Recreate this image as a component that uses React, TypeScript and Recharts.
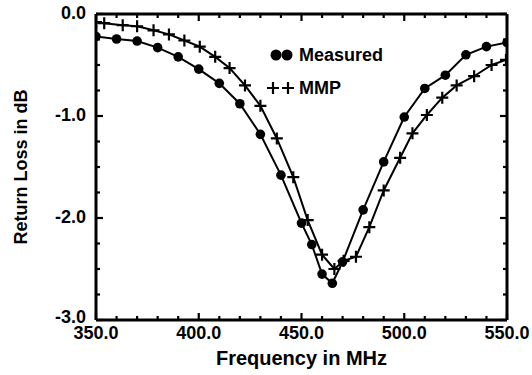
import React from 'react';
import { LineChart, Line, XAxis, YAxis } from 'recharts';

const measuredFreq = [350, 360, 370, 380, 390, 400, 410, 420, 430, 440, 450, 455, 460, 465, 470, 480, 490, 500, 510, 520, 530, 540, 550];
const measuredLoss = [-0.22, -0.245, -0.265, -0.33, -0.42, -0.54, -0.68, -0.88, -1.18, -1.58, -2.05, -2.26, -2.55, -2.64, -2.43, -1.92, -1.45, -1.01, -0.73, -0.6, -0.4, -0.32, -0.28];

const mmpFreq = [350, 354, 363, 370, 378, 385.5, 393, 400.5, 408, 415, 422.5, 430, 438, 446, 453, 460, 466, 470.5, 476.5, 483, 490, 498, 504, 511, 518.5, 525.5, 534, 542.5, 549.5];
const mmpLoss = [-0.08, -0.09, -0.11, -0.12, -0.16, -0.2, -0.26, -0.32, -0.42, -0.53, -0.7, -0.9, -1.22, -1.6, -2.02, -2.36, -2.5, -2.42, -2.38, -2.09, -1.73, -1.41, -1.17, -0.99, -0.82, -0.7, -0.61, -0.5, -0.45];

const xTicks = [350, 360, 370, 380, 390, 400, 410, 420, 430, 440, 450, 460, 470, 480, 490, 500, 510, 520, 530, 540, 550];
const yTicks = [-3, -2.75, -2.5, -2.25, -2, -1.75, -1.5, -1.25, -1, -0.75, -0.5, -0.25, 0];
const xDomain = [350, 550];
const yDomain = [-3, 0];

const seriesNames = ['Measured', 'MMP'];
const xTitle = 'Frequency in MHz';
const yTitle = 'Return Loss in dB';

const measuredData = measuredFreq.map((x, i) => ({ x, y: measuredLoss[i] }));
const mmpData = mmpFreq.map((x, i) => ({ x, y: mmpLoss[i] }));

const FONT = '"Liberation Sans", Arial, Helvetica, sans-serif';

const isMajorX = (v: number) => Math.abs(v % 50) < 1e-6;
const isMajorY = (v: number) => Math.abs(v - Math.round(v)) < 1e-6;

const BottomTick = (props: any) => {
  const { x, y, payload } = props;
  const major = isMajorX(payload.value);
  return (
    <g>
      <line x1={x} y1={y} x2={x} y2={y - (major ? 7 : 4)} stroke="#000" strokeWidth={2.2} />
      {major && (
        <text x={x} y={y + 19} textAnchor="middle" fontSize={18} fontWeight="bold" fontFamily={FONT} fill="#000">
          {payload.value.toFixed(1)}
        </text>
      )}
    </g>
  );
};

const TopTick = (props: any) => {
  const { x, y, payload } = props;
  const major = isMajorX(payload.value);
  return <line x1={x} y1={y} x2={x} y2={y + (major ? 7 : 4)} stroke="#000" strokeWidth={2.2} />;
};

const LeftTick = (props: any) => {
  const { x, y, payload } = props;
  const major = isMajorY(payload.value);
  return (
    <g>
      <line x1={x} y1={y} x2={x + (major ? 7 : 4)} y2={y} stroke="#000" strokeWidth={2.2} />
      {major && (
        <text x={x - 10} y={y + (payload.value < -2.5 ? 3 : 5)} textAnchor="end" fontSize={18} fontWeight="bold" fontFamily={FONT} fill="#000">
          {payload.value.toFixed(1)}
        </text>
      )}
    </g>
  );
};

const RightTick = (props: any) => {
  const { x, y, payload } = props;
  const major = isMajorY(payload.value);
  return <line x1={x} y1={y} x2={x - (major ? 7 : 4)} y2={y} stroke="#000" strokeWidth={2.2} />;
};

const CircleDot = (props: any) => {
  const { cx, cy, index } = props;
  return <circle key={`c-${index}`} cx={cx} cy={cy} r={4.8} fill="#000" stroke="none" />;
};

const PlusDot = (props: any) => {
  const { cx, cy, index } = props;
  const s = 6;
  return (
    <path
      key={`p-${index}`}
      d={`M${cx - s},${cy}H${cx + s}M${cx},${cy - s}V${cy + s}`}
      stroke="#000"
      strokeWidth={2.2}
      fill="none"
    />
  );
};

const XTitle = (props: any) => {
  const vb = props.viewBox;
  return (
    <text x={vb.x + vb.width / 2} y={vb.y + 45} textAnchor="middle" fontSize={20} fontWeight="bold" fontFamily={FONT} fill="#000">
      {xTitle}
    </text>
  );
};

const YTitle = (props: any) => {
  const vb = props.viewBox;
  const cx = vb.x + 27;
  const cy = vb.y + vb.height / 2;
  return (
    <text x={cx} y={cy} transform={`rotate(-90, ${cx}, ${cy})`} textAnchor="middle" fontSize={18} fontWeight="bold" fontFamily={FONT} fill="#000">
      {yTitle}
    </text>
  );
};

const LegendBox = () => (
  <div style={{ position: 'absolute', left: 266, top: 44, fontFamily: FONT, fontWeight: 'bold', fontSize: 18, color: '#000' }}>
    <div style={{ display: 'flex', alignItems: 'center', height: 22, marginBottom: 11 }}>
      <svg width={32} height={22}>
        <circle cx={10} cy={11} r={5.5} fill="#000" />
        <circle cx={21} cy={11} r={5.5} fill="#000" />
      </svg>
      <span style={{ marginLeft: 1, lineHeight: '22px' }}>{seriesNames[0]}</span>
    </div>
    <div style={{ display: 'flex', alignItems: 'center', height: 22 }}>
      <svg width={32} height={22}>
        <path d="M1,11H13M7,5V17M16,11H28M22,5V17" stroke="#000" strokeWidth={2.2} fill="none" />
      </svg>
      <span style={{ marginLeft: 1, lineHeight: '22px' }}>{seriesNames[1]}</span>
    </div>
  </div>
);

export default function App() {
  return (
    <div style={{ position: 'absolute', left: 0, top: 0, width: 532, height: 375, background: '#fff' }}>
      <LineChart width={532} height={375} margin={{ top: 4, right: 15, bottom: 0, left: 0 }}>
        <XAxis
          xAxisId="b"
          dataKey="x"
          type="number"
          domain={xDomain}
          ticks={xTicks}
          interval={0}
          tickSize={0}
          tickMargin={0}
          height={55}
          axisLine={{ stroke: '#000', strokeWidth: 3 }}
          tick={BottomTick}
          allowDataOverflow
          label={{ content: XTitle }}
        />
        <XAxis
          xAxisId="t"
          orientation="top"
          dataKey="x"
          type="number"
          domain={xDomain}
          ticks={xTicks}
          interval={0}
          tickSize={0}
          tickMargin={0}
          height={10}
          axisLine={{ stroke: '#000', strokeWidth: 3 }}
          tick={TopTick}
          allowDataOverflow
        />
        <YAxis
          yAxisId="l"
          dataKey="y"
          type="number"
          domain={yDomain}
          ticks={yTicks}
          interval={0}
          tickSize={0}
          tickMargin={0}
          width={96}
          axisLine={{ stroke: '#000', strokeWidth: 3 }}
          tick={LeftTick}
          allowDataOverflow
          label={{ content: YTitle }}
        />
        <YAxis
          yAxisId="r"
          orientation="right"
          dataKey="y"
          type="number"
          domain={yDomain}
          ticks={yTicks}
          interval={0}
          tickSize={0}
          tickMargin={0}
          width={10}
          axisLine={{ stroke: '#000', strokeWidth: 3 }}
          tick={RightTick}
          allowDataOverflow
        />
        <Line
          xAxisId="b"
          yAxisId="l"
          name={seriesNames[0]}
          data={measuredData}
          dataKey="y"
          type="linear"
          stroke="#000"
          strokeWidth={2}
          dot={CircleDot}
          activeDot={false}
          isAnimationActive={false}
        />
        <Line
          xAxisId="t"
          yAxisId="r"
          name={seriesNames[1]}
          data={mmpData}
          dataKey="y"
          type="linear"
          stroke="#000"
          strokeWidth={2}
          dot={PlusDot}
          activeDot={false}
          isAnimationActive={false}
        />
      </LineChart>
      <LegendBox />
    </div>
  );
}
